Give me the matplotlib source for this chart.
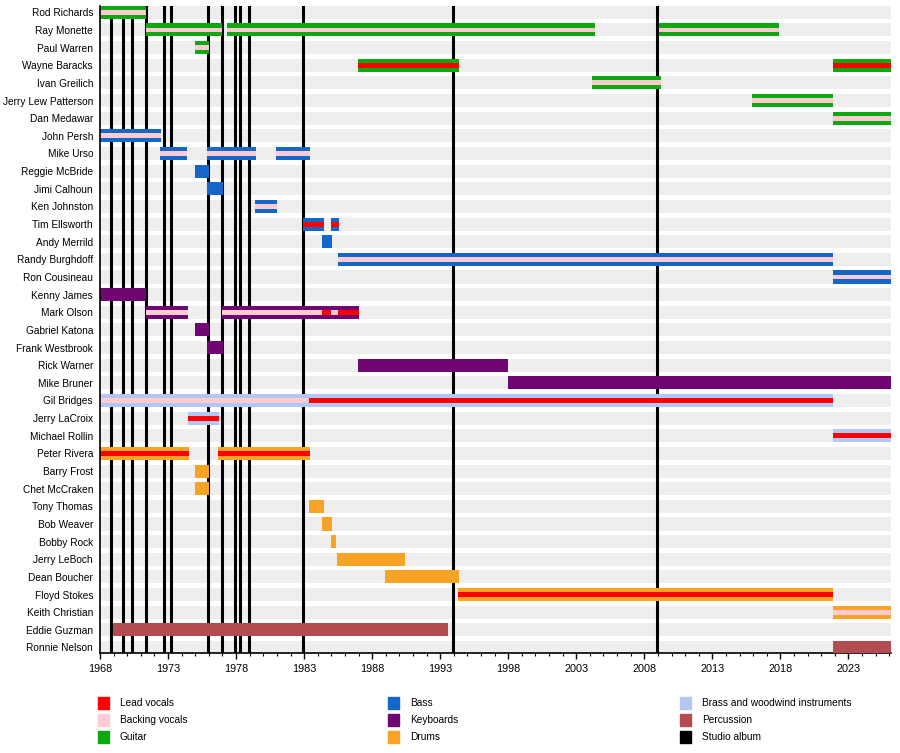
import matplotlib
matplotlib.use("Agg")
import matplotlib.pyplot as plt
from matplotlib.patches import Rectangle
from matplotlib.ticker import MultipleLocator

plt.rcParams["font.family"] = ["Liberation Sans", "DejaVu Sans"]

members = [
    "Rod Richards", "Ray Monette", "Paul Warren", "Wayne Baracks", "Ivan Greilich",
    "Jerry Lew Patterson", "Dan Medawar", "John Persh", "Mike Urso", "Reggie McBride",
    "Jimi Calhoun", "Ken Johnston", "Tim Ellsworth", "Andy Merrild", "Randy Burghdoff",
    "Ron Cousineau", "Kenny James", "Mark Olson", "Gabriel Katona", "Frank Westbrook",
    "Rick Warner", "Mike Bruner", "Gil Bridges", "Jerry LaCroix", "Michael Rollin",
    "Peter Rivera", "Barry Frost", "Chet McCraken", "Tony Thomas", "Bob Weaver",
    "Bobby Rock", "Jerry LeBoch", "Dean Boucher", "Floyd Stokes", "Keith Christian",
    "Eddie Guzman", "Ronnie Nelson",
]

END = 2026.13

# (member, start, end, vocals)  vocals: None / "lead" / "backing"
guitar = [
    ("Rod Richards", 1968.0, 1971.4, "backing"),
    ("Ray Monette", 1971.35, 1976.99, "backing"),
    ("Ray Monette", 1977.33, 2004.37, "backing"),
    ("Ray Monette", 2009.1, 2017.9, "backing"),
    ("Paul Warren", 1974.96, 1976.0, "backing"),
    ("Wayne Baracks", 1986.93, 1994.37, "lead"),
    ("Wayne Baracks", 2021.85, END, "lead"),
    ("Ivan Greilich", 2004.16, 2009.2, "backing"),
    ("Jerry Lew Patterson", 2015.93, 2021.85, "backing"),
    ("Dan Medawar", 2021.85, END, "backing"),
]
bass = [
    ("John Persh", 1968.0, 1972.46, "backing"),
    ("Mike Urso", 1972.4, 1974.42, "backing"),
    ("Mike Urso", 1975.89, 1979.44, "backing"),
    ("Mike Urso", 1980.9, 1983.4, "backing"),
    ("Reggie McBride", 1974.96, 1975.99, None),
    ("Jimi Calhoun", 1975.89, 1977.01, None),
    ("Ken Johnston", 1979.37, 1980.99, "backing"),
    ("Tim Ellsworth", 1982.92, 1984.44, "lead"),
    ("Tim Ellsworth", 1984.96, 1985.55, "lead"),
    ("Andy Merrild", 1984.34, 1985.03, None),
    ("Randy Burghdoff", 1985.5, 2021.85, "backing"),
    ("Ron Cousineau", 2021.85, END, "backing"),
]
keyboards = [
    ("Kenny James", 1968.0, 1971.4, None),
    ("Mark Olson", 1971.35, 1974.44, "backing"),
    ("Mark Olson", 1976.94, 1984.34, "backing"),
    ("Mark Olson", 1984.34, 1984.96, "lead"),
    ("Mark Olson", 1984.96, 1985.5, "backing"),
    ("Mark Olson", 1985.5, 1987.0, "lead"),
    ("Gabriel Katona", 1974.96, 1975.99, None),
    ("Frank Westbrook", 1975.89, 1977.01, None),
    ("Rick Warner", 1986.93, 1997.96, None),
    ("Mike Bruner", 1997.96, END, None),
]
brass = [
    ("Gil Bridges", 1968.0, 1983.36, "backing"),
    ("Gil Bridges", 1983.36, 2021.85, "lead"),
    ("Jerry LaCroix", 1974.47, 1976.72, "lead"),
    ("Michael Rollin", 2021.85, END, "lead"),
]
drums = [
    ("Peter Rivera", 1968.0, 1974.51, "lead"),
    ("Peter Rivera", 1976.67, 1983.41, "lead"),
    ("Barry Frost", 1974.96, 1976.0, None),
    ("Chet McCraken", 1974.96, 1975.99, None),
    ("Tony Thomas", 1983.34, 1984.44, None),
    ("Bob Weaver", 1984.34, 1985.03, None),
    ("Bobby Rock", 1984.96, 1985.37, None),
    ("Jerry LeBoch", 1985.4, 1990.4, None),
    ("Dean Boucher", 1988.93, 1994.37, None),
    ("Floyd Stokes", 1994.3, 2021.85, "lead"),
    ("Keith Christian", 2021.85, END, "backing"),
]
percussion = [
    ("Eddie Guzman", 1968.95, 1993.54, None),
    ("Ronnie Nelson", 2021.85, END, None),
]

albums = [1968.78, 1969.68, 1970.35, 1971.40, 1972.70, 1973.21, 1975.93,
          1976.96, 1977.92, 1978.32, 1978.95, 1982.92, 1993.93, 2008.93]

year_ticks = list(range(1968, 2024, 5))

colors = {
    "lead": "#ff0000",
    "backing": "#ffcbd3",
    "guitar": "#10a810",
    "bass": "#1466c8",
    "keyboards": "#6f0672",
    "drums": "#f9a326",
    "brass": "#b3c7f5",
    "percussion": "#b24c50",
    "album": "#000000",
}

FS = 7.3
fig = plt.figure(figsize=(9, 7.53), dpi=100)
W, H = 900, 753
ax_top, ax_bot = 5.8, 653.3
ax = fig.add_axes([100 / W, 1 - ax_bot / H, 791 / W, (ax_bot - ax_top) / H])

rows = {name: i for i, name in enumerate(members)}
n = len(members)

# background stripes
ax.barh(range(n), END - 1968.0, left=1968.0, height=0.74, color="#eeeeee", zorder=1)

for yr in albums:
    ax.axvline(yr, color=colors["album"], lw=2.2, zorder=2)

groups = [("guitar", guitar), ("bass", bass), ("keyboards", keyboards),
          ("brass", brass), ("drums", drums), ("percussion", percussion)]
for inst, spans in groups:
    for name, s, e, voc in spans:
        y = rows[name]
        ax.barh(y, e - s, left=s, height=0.74, color=colors[inst], zorder=3)
        if voc:
            ax.barh(y, e - s, left=s, height=0.28, color=colors[voc], zorder=4)

ax.set_xlim(1968.0, END)
ax.set_ylim(n - 1 + 0.33, -0.37)
ax.set_yticks(range(n))
ax.set_yticklabels(members, fontsize=FS)
ax.tick_params(axis="y", length=0, pad=5)
ax.set_xticks(year_ticks)
ax.set_xticklabels([str(t) for t in year_ticks], fontsize=7.8)
ax.xaxis.set_minor_locator(MultipleLocator(1))
ax.tick_params(axis="x", which="major", length=4, width=1, pad=4)
ax.tick_params(axis="x", which="minor", length=2, width=0.8)
for sp in ["top", "right"]:
    ax.spines[sp].set_visible(False)
ax.spines["left"].set_linewidth(1.2)
ax.spines["bottom"].set_linewidth(1.2)
ax.spines["left"].set_zorder(5)

legend = [
    [("Lead vocals", "lead"), ("Backing vocals", "backing"), ("Guitar", "guitar")],
    [("Bass", "bass"), ("Keyboards", "keyboards"), ("Drums", "drums")],
    [("Brass and woodwind instruments", "brass"), ("Percussion", "percussion"),
     ("Studio album", "album")],
]
col_x = [98, 388, 680]
row_y = [703, 720, 737]
for ci, col in enumerate(legend):
    for ri, (label, key) in enumerate(col):
        x0 = col_x[ci]
        yc = row_y[ri]
        fig.add_artist(Rectangle((x0 / W, 1 - (yc + 6) / H), 11 / W, 12 / H,
                                 transform=fig.transFigure, color=colors[key]))
        fig.text((x0 + 22) / W, 1 - yc / H, label, fontsize=FS, va="center", ha="left")

fig.savefig("out.png", dpi=100)
